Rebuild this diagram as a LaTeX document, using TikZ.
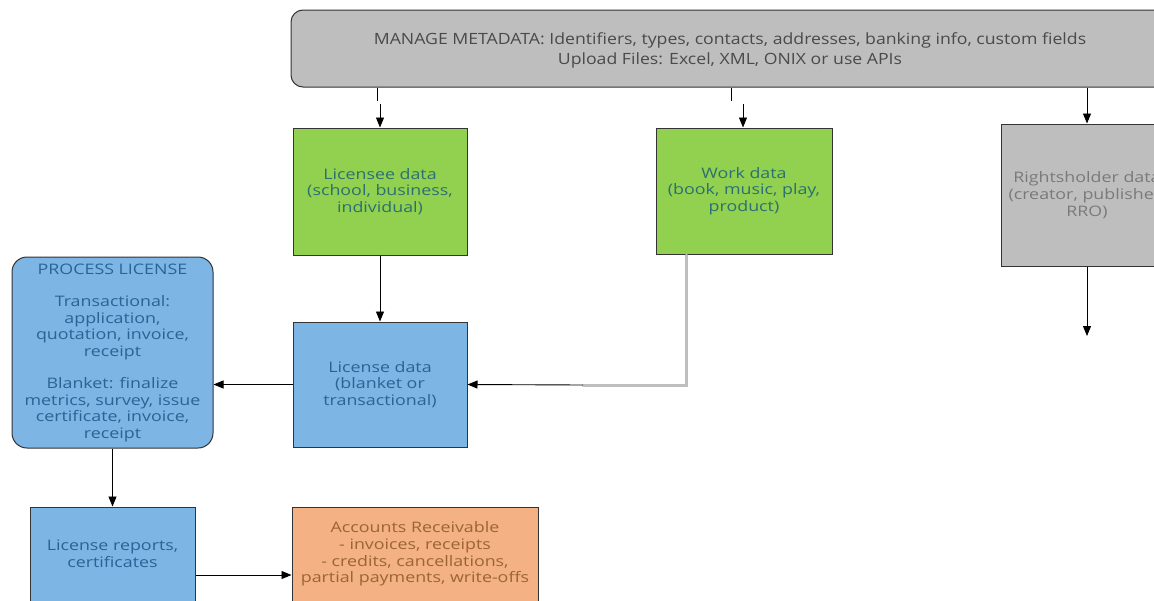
\documentclass[tikz,border=0pt]{standalone}
\usepackage{fontspec}
\setmainfont{Open Sans}
\newfontfamily\topfont[FakeStretch=1.14]{Open Sans}
\newfontfamily\boxfont[FakeStretch=1.23]{Open Sans}
\usetikzlibrary{arrows.meta}
\definecolor{gfill}{HTML}{92D050}
\definecolor{bfill}{HTML}{7DB5E5}
\definecolor{ofill}{HTML}{F4B183}
\definecolor{grfill}{HTML}{BEBEBE}
\definecolor{gtext}{HTML}{2B7070}
\definecolor{btext}{HTML}{2A6496}
\definecolor{otext}{HTML}{9A6536}
\definecolor{grtext}{HTML}{7A7A7A}
\definecolor{toptext}{HTML}{4A4A4A}
\tikzset{
  box/.style={draw=black!80, line width=1pt, align=center, inner sep=2pt,
    font=\boxfont\fontsize{14.5}{16.7}\selectfont},
  greenbox/.style={box, fill=gfill, text=gtext},
  bluebox/.style={box, fill=bfill, text=btext},
  orangebox/.style={box, fill=ofill, text=otext},
  graybox/.style={box, fill=grfill, text=grtext},
  conn/.style={line width=0.9pt, -{Triangle[length=10pt,width=8pt]}},
  plain/.style={line width=0.9pt},
  shadowline/.style={line width=3pt, draw=black!25},
}
\begin{document}
\begin{tikzpicture}[x=1pt,y=-1pt]
\clip (0,0) rectangle (1154,600);
\fill[white] (0,0) rectangle (1154,600);
% top box
\node[box, fill=grfill, text=toptext, rounded corners=12pt, minimum width=878pt, minimum height=77pt,
  font=\topfont\fontsize{15.5}{20}\selectfont] (meta) at (730,48.5)
  {\raisebox{0pt}[12pt][0pt]{}\\[-16pt]MANAGE METADATA: Identifiers, types, contacts, addresses, banking info, custom fields\\Upload Files: Excel, XML, ONIX or use APIs};
% data boxes
\node[greenbox, minimum width=174pt, minimum height=127pt] (licensee) at (380,191.5)
  {Licensee data\\(school, business,\\individual)};
\node[greenbox, minimum width=176pt, minimum height=126pt] (work) at (744,191)
  {Work data\\(book, music, play,\\product)};
\node[graybox, minimum width=172pt, minimum height=142pt] (rights) at (1087,195)
  {Rightsholder data\\(creator, publisher,\\RRO)};
\node[bluebox, minimum width=174pt, minimum height=125pt] (license) at (380,384.5)
  {License data\\(blanket or\\transactional)};
\node[bluebox, rounded corners=15pt, minimum width=201pt, minimum height=191pt,
  font=\boxfont\fontsize{14.5}{16.4}\selectfont] (process) at (112.5,352.5)
  {PROCESS LICENSE\\[16.4pt]Transactional:\\application,\\quotation, invoice,\\receipt\\[16.4pt]Blanket: finalize\\metrics, survey, issue\\certificate, invoice,\\receipt};
\node[bluebox, minimum width=165pt, minimum height=94pt] (reports) at (112.5,554)
  {License reports,\\certificates};
\node[orangebox, minimum width=246pt, minimum height=94pt] (ar) at (415,554)
  {Accounts Receivable\\- invoices, receipts\\- credits, cancellations,\\partial payments, write-offs};
% connectors
\coordinate (m1) at (377,101);
\coordinate (m2) at (731,101);
\draw[plain] (meta.south -| m1) -- (m1);
\draw[plain] (meta.south -| m2) -- (m2);
\coordinate (a1) at (380,104);
\coordinate (a2) at (743,104);
\draw[conn] (a1) -- (licensee.north -| a1);
\draw[conn] (a2) -- (work.north -| a2);
\draw[conn] (meta.south -| rights.north) -- (rights.north);
\coordinate (rend) at (1087,336);
\draw[conn] (rights.south) -- (rend);
\draw[conn] (licensee.south) -- (license.north);
\draw[conn] (license.west) -- (process.east |- license.west);
\coordinate (wb) at (686,255);
\coordinate (wc) at (686,385);
\coordinate (wd) at (583,385);
\draw[shadowline, line cap=round] (wb) -- (wc) -- (wd);
\draw[conn] (wd) -- (license.east);
\draw[conn] (process.south) -- (reports.north);
\coordinate (rr) at (reports.east |- 0,575);
\draw[conn] (rr) -- (ar.west |- rr);
\end{tikzpicture}
\end{document}
